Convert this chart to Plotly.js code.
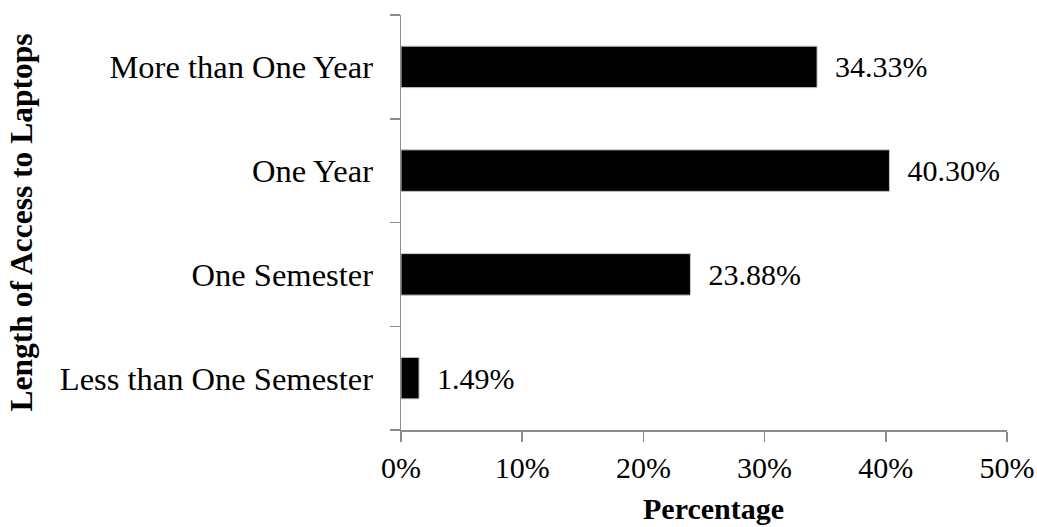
<!DOCTYPE html>
<html>
<head>
<meta charset="utf-8">
<script src="https://cdn.plot.ly/plotly-3.0.1.min.js"></script>
<style>html,body{margin:0;padding:0;background:#fff;}#chart{width:1037px;height:527px;}</style>
</head>
<body>
<div id="chart"></div>
<script>
const categories = ["Less than One Semester", "One Semester", "One Year", "More than One Year"];
const percentages = [1.49, 23.88, 40.30, 34.33];
const labels = ["1.49%", "23.88%", "40.30%", "34.33%"];
const xTickVals = [0, 10, 20, 30, 40, 50];
const xTickText = ["0%", "10%", "20%", "30%", "40%", "50%"];

const font = "Liberation Serif, Times New Roman, serif";

const trace = {
  type: "bar",
  orientation: "h",
  y: categories,
  x: percentages,
  text: labels.map(function (s) { return "\u00a0\u00a0" + s; }),
  textposition: "outside",
  constraintext: "none",
  cliponaxis: false,
  textfont: {family: font, size: 30, color: "#000"},
  marker: {color: "#000", line: {color: "#c8c8c8", width: 1}},
  hoverinfo: "none"
};

const layout = {
  width: 1037, height: 527,
  margin: {l: 401, r: 30, t: 15, b: 97},
  paper_bgcolor: "#fff", plot_bgcolor: "#fff",
  showlegend: false,
  bargap: 0.6,
  font: {family: font, size: 30, color: "#000"},
  xaxis: {
    range: [0, 50],
    tickvals: xTickVals,
    ticktext: xTickText,
    showgrid: false, zeroline: false,
    showline: true, linecolor: "#8c8c8c", linewidth: 1.5,
    ticks: "outside", ticklen: 10, tickcolor: "#8c8c8c", tickwidth: 1.5,
    tickfont: {family: font, size: 30, color: "#000"}
  },
  yaxis: {
    type: "category",
    categoryorder: "array",
    categoryarray: categories,
    tickson: "boundaries",
    showgrid: false, zeroline: false,
    showline: true, linecolor: "#8c8c8c", linewidth: 1.5,
    ticks: "outside", ticklen: 10, tickcolor: "#8c8c8c", tickwidth: 1.5,
    tickfont: {family: font, size: 32.5, color: "#000"},
    ticklabelstandoff: 20,
    title: {text: "<b>Length of Access to Laptops</b>", font: {family: font, size: 31.5, color: "#000"}, standoff: 18}
  },
  annotations: [{
    text: "<b>Percentage</b>",
    xref: "paper", yref: "paper",
    x: 0.516, y: -0.188,
    xanchor: "center", yanchor: "middle",
    showarrow: false,
    font: {family: font, size: 30, color: "#000"}
  }]
};

Plotly.newPlot("chart", [trace], layout, {displayModeBar: false, staticPlot: true});
</script>
</body>
</html>
